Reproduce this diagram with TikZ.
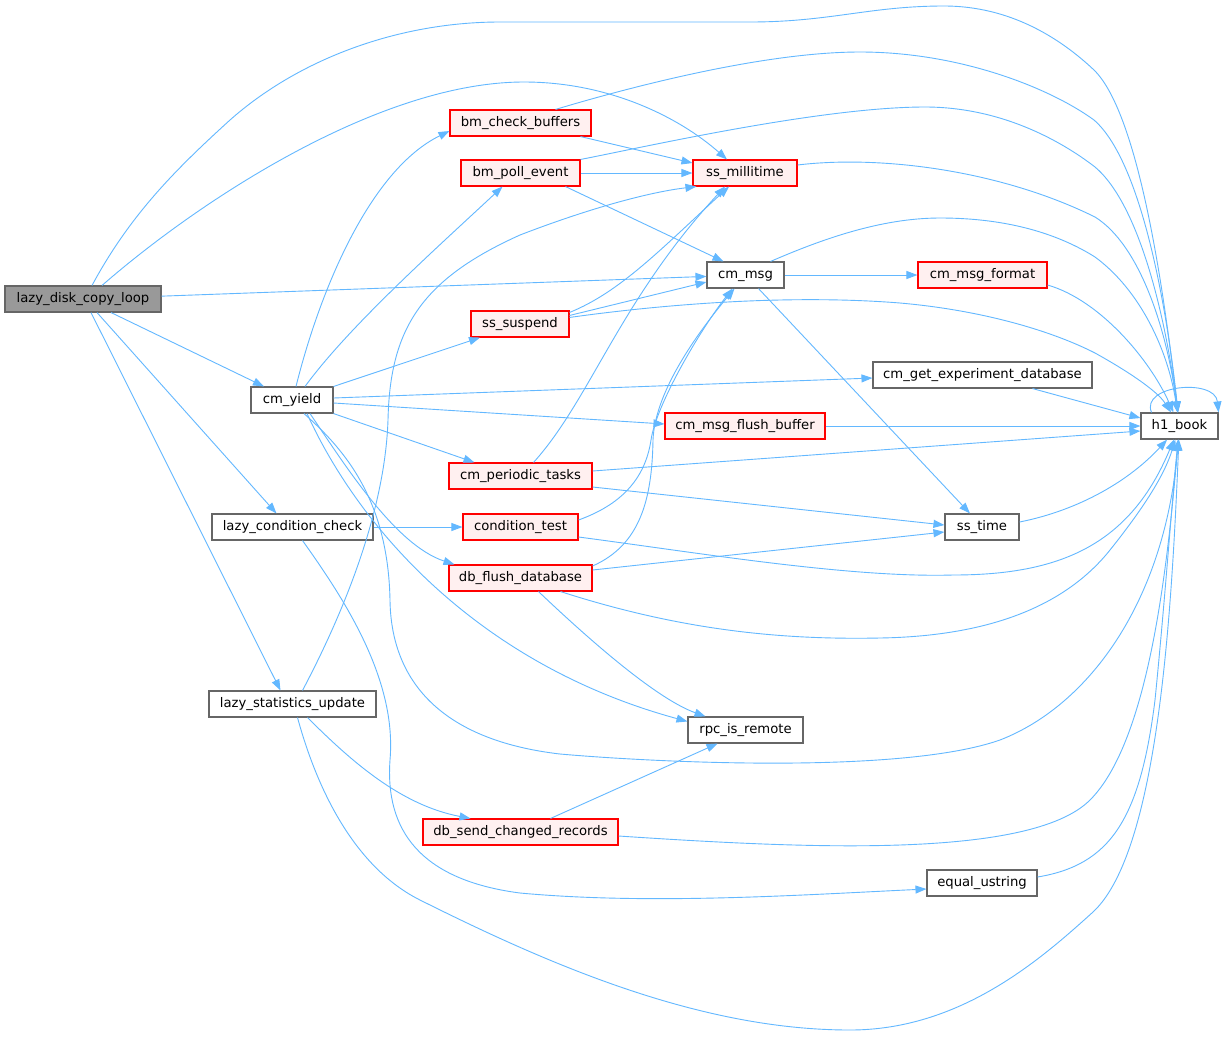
\documentclass[tikz,border=0pt]{standalone}
\usepackage{fontspec}
\setmainfont{DejaVu Sans}
\usetikzlibrary{arrows.meta}
\definecolor{edgeblue}{HTML}{63B8FF}
\definecolor{nodered}{HTML}{FF0000}
\definecolor{redfill}{HTML}{FFF0F0}
\definecolor{nodegray}{HTML}{666666}
\definecolor{rootgray}{HTML}{999999}
\tikzset{
  box/.style={draw=nodegray, fill=white, line width=1.1pt, minimum height=26pt, inner sep=0pt,
    text height=10pt, text depth=3pt, font=\fontsize{13.2pt}{15pt}\selectfont, text=black},
  redbox/.style={box, draw=nodered, fill=redfill},
  rootbox/.style={box, fill=rootgray},
  edge/.style={draw=edgeblue, line width=0.9pt, -{Triangle[length=11pt,width=8pt]}}
}
\begin{document}
\begin{tikzpicture}[x=1pt,y=-1pt]
\fill[white] (0,0) rectangle (1223,1037);
\useasboundingbox (0,0) rectangle (1223,1037);
% nodes
\node[rootbox, minimum width=156pt] (ldcl) at (83,299) {lazy\_disk\_copy\_loop};
\node[box, minimum width=82pt] (cmyield) at (292,400) {cm\_yield};
\node[box, minimum width=161pt] (lcc) at (292.5,527) {lazy\_condition\_check};
\node[box, minimum width=167pt] (lsu) at (292.5,704) {lazy\_statistics\_update};
\node[redbox, minimum width=141pt] (bmcb) at (520.5,123) {bm\_check\_buffers};
\node[redbox, minimum width=119pt] (bmpe) at (520.5,173) {bm\_poll\_event};
\node[redbox, minimum width=98pt] (sssusp) at (520,324) {ss\_suspend};
\node[redbox, minimum width=143pt] (cmpt) at (520.5,476) {cm\_periodic\_tasks};
\node[redbox, minimum width=115pt] (condtest) at (520.5,527) {condition\_test};
\node[redbox, minimum width=143pt] (dbfd) at (520.5,578) {db\_flush\_database};
\node[redbox, minimum width=195pt] (dbscr) at (520.5,832) {db\_send\_changed\_records};
\node[redbox, minimum width=104pt] (ssmilli) at (745,173) {ss\_millitime};
\node[box, minimum width=77pt] (cmmsg) at (745.5,275) {cm\_msg};
\node[redbox, minimum width=160pt] (cmmfb) at (745,426) {cm\_msg\_flush\_buffer};
\node[box, minimum width=115pt] (rpc) at (745.5,730) {rpc\_is\_remote};
\node[redbox, minimum width=129pt] (cmmf) at (982.5,275) {cm\_msg\_format};
\node[box, minimum width=219pt] (cmged) at (982.5,375) {cm\_get\_experiment\_database};
\node[box, minimum width=74pt] (sstime) at (982,527) {ss\_time};
\node[box, minimum width=110pt] (equs) at (982,883) {equal\_ustring};
\node[box, minimum width=77pt] (h1) at (1179.5,426) {h1\_book};
% lazy_disk_copy_loop
\draw[edge] ([xshift=9pt]ldcl.north) .. controls (130,215) and (175,170) .. (230,120) .. controls (300,58) and (400,22) .. (500,22) -- (750,22) .. controls (830,22) and (870,6) .. (944,6) .. controls (1010,6) and (1060,38) .. (1094,70) .. controls (1140,115) and (1165,300) .. (h1);
\draw[edge] ([xshift=19pt]ldcl.north) .. controls (200,200) and (380,82) .. (524,82) .. controls (610,82) and (680,118) .. ([xshift=-18pt]ssmilli.north);
\draw[edge] (ldcl) -- (cmmsg);
\draw[edge] (ldcl) -- (cmyield);
\draw[edge] ([xshift=14pt]ldcl.south) -- ([xshift=-16pt]lcc.north);
\draw[edge] ([xshift=8pt]ldcl.south) -- ([xshift=-12pt]lsu.north);
% cm_yield
\draw[edge] ([xshift=4pt]cmyield.north) .. controls (320,290) and (370,170) .. ([yshift=-8pt]bmcb.west);
\draw[edge] ([xshift=13pt]cmyield.north) .. controls (350,325) and (440,245) .. ([xshift=-18pt]bmpe.south);
\draw[edge] (cmyield.north east) -- ([xshift=-40pt]sssusp.south);
\draw[edge] ([yshift=2pt]cmyield.east) -- ([yshift=-3pt]cmged.west);
\draw[edge] ([yshift=-3pt]cmyield.east) -- ([yshift=2pt]cmmfb.west);
\draw[edge] (cmyield.south east) -- ([xshift=-46pt]cmpt.north);
\draw[edge] ([xshift=18pt]cmyield.south) .. controls (345,465) and (395,545) .. ([xshift=-66pt]dbfd.north);
\draw[edge] ([xshift=15pt]cmyield.south) .. controls (360,530) and (480,665) .. ([yshift=-5pt]rpc.north west);
\draw[edge] ([xshift=12pt]cmyield.south) .. controls (345,450) and (388,500) .. (390,600) .. controls (391,680) and (440,740) .. (560,754) .. controls (650,762) and (900,775) .. (1000,740) .. controls (1090,705) and (1165,600) .. (h1);
% lazy_condition_check
\draw[edge] (lcc) -- (condtest);
\draw[edge] ([xshift=10pt]lcc.south) .. controls (345,600) and (397,680) .. (390,760) .. controls (385,830) and (420,880) .. (520,893) .. controls (650,905) and (800,895) .. ([yshift=-6pt]equs.west);
% lazy_statistics_update
\draw[edge] ([xshift=10pt]lsu.north) .. controls (345,610) and (385,510) .. (388,420) .. controls (390,330) and (420,280) .. (520,235) .. controls (590,208) and (650,192) .. ([xshift=4pt]ssmilli.south west);
\draw[edge] ([xshift=15pt]lsu.south) .. controls (350,760) and (400,805) .. ([xshift=-50pt]dbscr.north);
\draw[edge] ([xshift=5pt]lsu.south) .. controls (320,800) and (360,870) .. (420,900) .. controls (550,965) and (700,1030) .. (850,1030) .. controls (960,1030) and (1040,960) .. (1093,912) .. controls (1160,850) and (1172,600) .. (h1);
% bm_check_buffers
\draw[edge] ([xshift=60pt]bmcb.south) -- ([yshift=10pt]ssmilli.west);
\draw[edge] ([xshift=35pt]bmcb.north) .. controls (620,90) and (760,52) .. (860,52) .. controls (960,52) and (1050,88) .. (1094,120) .. controls (1140,160) and (1166,300) .. (h1);
% bm_poll_event
\draw[edge] (bmpe) -- (ssmilli);
\draw[edge] (bmpe.north east) .. controls (640,148) and (820,107) .. (925,107) .. controls (1000,107) and (1060,140) .. (1095,167) .. controls (1140,205) and (1166,320) .. (h1);
\draw[edge] ([xshift=45pt]bmpe.south) -- ([xshift=-22pt]cmmsg.north);
% ss_millitime
\draw[edge] ([yshift=8pt]ssmilli.east) .. controls (880,155) and (1000,170) .. (1095,217) .. controls (1140,245) and (1167,330) .. (h1);
% cm_msg
\draw[edge] (cmmsg) -- (cmmf);
\draw[edge] ([xshift=25pt]cmmsg.north) .. controls (820,240) and (880,218) .. (940,218) .. controls (1010,218) and (1060,235) .. (1095,257) .. controls (1140,290) and (1168,350) .. (h1);
\draw[edge] ([xshift=13pt]cmmsg.south) -- ([xshift=-12pt]sstime.north);
% cm_msg_format
\draw[edge] ([yshift=-10pt]cmmf.east) .. controls (1100,300) and (1150,360) .. (h1);
% ss_suspend
\draw[edge] ([yshift=-2pt]sssusp.north east) .. controls (620,292) and (660,250) .. ([xshift=-16pt]ssmilli.south);
\draw[edge] ([yshift=-5pt]sssusp.north east) -- ([yshift=-7pt]cmmsg.west);
\draw[edge] ([yshift=-7pt]sssusp.north east) .. controls (680,302) and (800,295) .. (900,303) .. controls (980,310) and (1050,330) .. (1095,353) .. controls (1140,378) and (1160,395) .. (h1);
% cm_get_experiment_database, cm_msg_flush_buffer
\draw[edge] ([xshift=50pt]cmged.south) -- ([yshift=8pt]h1.west);
\draw[edge] (cmmfb) -- (h1);
% cm_periodic_tasks
\draw[edge] ([xshift=13pt]cmpt.north) .. controls (590,400) and (620,300) .. ([xshift=-20pt]ssmilli.south);
\draw[edge] ([yshift=5pt]cmpt.east) -- ([yshift=-5pt]h1.west);
\draw[edge] ([yshift=-11pt]cmpt.east) -- ([yshift=2pt]sstime.west);
% condition_test
\draw[edge] ([yshift=7pt]condtest.east) .. controls (620,505) and (645,480) .. (651,440) .. controls (656,405) and (700,330) .. ([xshift=-13pt]cmmsg.south);
\draw[edge] ([yshift=-10pt]condtest.east) .. controls (700,553) and (850,578) .. (953,575) .. controls (1060,575) and (1130,545) .. (h1);
% db_flush_database
\draw[edge] ([yshift=12pt]dbfd.east) .. controls (640,545) and (652,500) .. (653,440) .. controls (655,390) and (700,330) .. ([xshift=-11pt]cmmsg.south);
\draw[edge] ([yshift=8pt]dbfd.east) -- ([yshift=-5pt]sstime.west);
\draw[edge] ([xshift=40pt]dbfd.south) .. controls (680,630) and (780,640) .. (880,638) .. controls (1000,636) and (1070,600) .. (1110,550) .. controls (1150,500) and (1166,470) .. (h1);
\draw[edge] ([xshift=18pt]dbfd.south) .. controls (600,650) and (660,700) .. ([xshift=-40pt]rpc.north);
% db_send_changed_records
\draw[edge] ([xshift=30pt]dbscr.north) -- ([xshift=-28pt]rpc.south);
\draw[edge] ([yshift=-4pt]dbscr.east) .. controls (800,848) and (1030,860) .. (1090,800) .. controls (1150,740) and (1168,560) .. (h1);
% equal_ustring, ss_time
\draw[edge] ([yshift=6pt]equs.east) .. controls (1110,865) and (1140,820) .. (1155,700) .. controls (1165,600) and (1172,500) .. (h1);
\draw[edge] ([yshift=5pt]sstime.east) .. controls (1080,510) and (1130,480) .. (h1);
% self loop
\draw[edge] ([xshift=-28pt]h1.north) .. controls (1140,385) and (1215,378) .. (h1.north east);
\end{tikzpicture}
\end{document}
